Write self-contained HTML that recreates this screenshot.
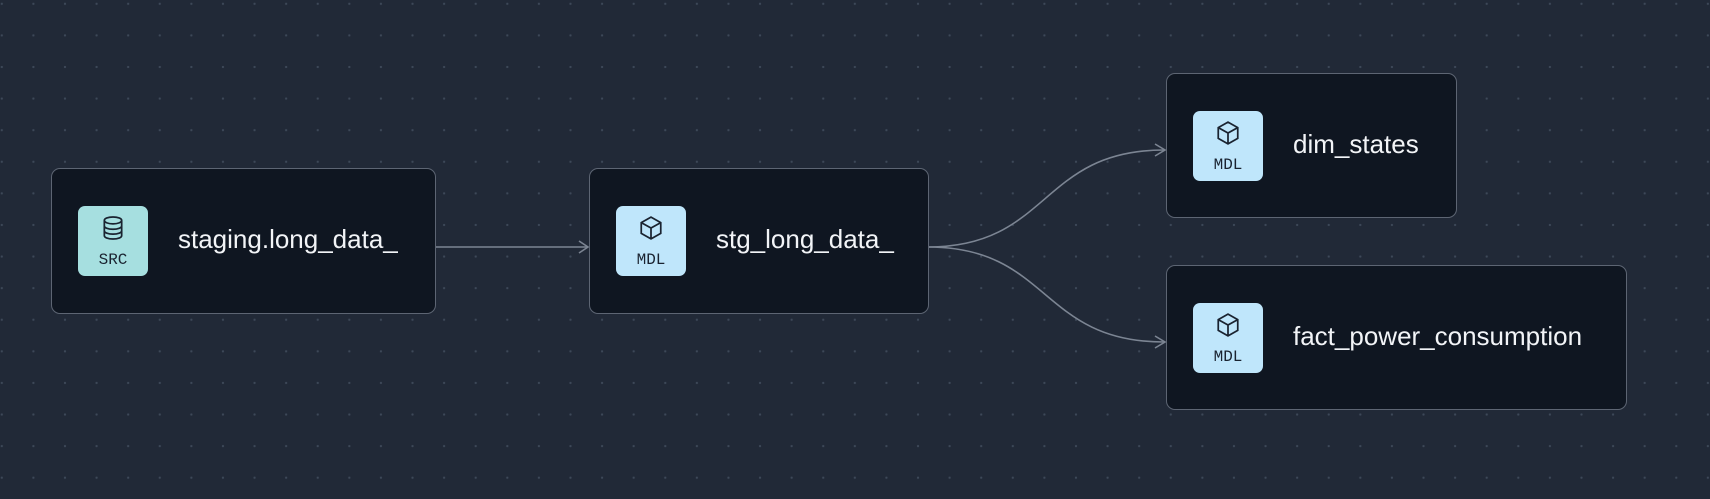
<!DOCTYPE html>
<html><head><meta charset="utf-8"><style>
html,body{margin:0;padding:0;}
body{width:1710px;height:499px;overflow:hidden;background-color:#212937;
background-image:radial-gradient(circle,#3d4858 1px,transparent 1.3px);
background-size:31.6px 31.6px;background-position:-14px -12px;position:relative;
font-family:"Liberation Sans",sans-serif;}
.node{position:absolute;background:#0f1621;border:1px solid #5d6573;border-radius:9px;box-sizing:border-box;}
.icon{position:absolute;left:26px;width:70px;height:70px;border-radius:7px;top:50%;margin-top:-35px;}
.icon span{position:absolute;left:0;right:0;bottom:7px;text-align:center;font-family:"Liberation Mono",monospace;font-size:16px;color:#1a2330;}
.icon svg{position:absolute;left:23px;top:9px;}
.label{position:absolute;left:126px;top:50%;transform:translateY(-55%);color:#f2f4f7;font-size:26px;white-space:nowrap;}
</style></head><body>
<svg width="1710" height="499" style="position:absolute;left:0;top:0">
<g fill="none" stroke="#7c8593" stroke-width="1.6">
<path d="M435 247 L587 247"/><path d="M579 241 L588 247 L579 253"/>
<path d="M928 247 C1050 247 1040 150 1164 150"/><path d="M1155 144 L1165 150 L1155 156"/>
<path d="M928 247 C1050 247 1040 342 1164 342"/><path d="M1155 336 L1165 342 L1155 348"/>
</g></svg>

<div class="node" style="left:51px;top:168px;width:385px;height:146px">
<div class="icon" style="background:#a6dfe0"><svg width="24" height="26" viewBox="0 0 22 24" fill="none" stroke="#1a2330" stroke-width="1.6"><ellipse cx="11" cy="5" rx="8" ry="3.2"/><path d="M3 5v14c0 1.8 3.6 3.2 8 3.2s8-1.4 8-3.2V5M3 10c0 1.8 3.6 3.2 8 3.2s8-1.4 8-3.2M3 14.5c0 1.8 3.6 3.2 8 3.2s8-1.4 8-3.2"/></svg><span>SRC</span></div>
<div class="label">staging.long_data_</div></div>

<div class="node" style="left:589px;top:168px;width:340px;height:146px">
<div class="icon" style="background:#bfe6fb"><svg width="24" height="26" viewBox="0 0 22 24" fill="none" stroke="#1a2330" stroke-width="1.6"><path d="M11 2 L20 7 V17 L11 22 L2 17 V7 Z M2 7 L11 12 L20 7 M11 12 V22"/></svg><span>MDL</span></div>
<div class="label">stg_long_data_</div></div>

<div class="node" style="left:1166px;top:73px;width:291px;height:145px">
<div class="icon" style="background:#bfe6fb"><svg width="24" height="26" viewBox="0 0 22 24" fill="none" stroke="#1a2330" stroke-width="1.6"><path d="M11 2 L20 7 V17 L11 22 L2 17 V7 Z M2 7 L11 12 L20 7 M11 12 V22"/></svg><span>MDL</span></div>
<div class="label">dim_states</div></div>

<div class="node" style="left:1166px;top:265px;width:461px;height:145px">
<div class="icon" style="background:#bfe6fb"><svg width="24" height="26" viewBox="0 0 22 24" fill="none" stroke="#1a2330" stroke-width="1.6"><path d="M11 2 L20 7 V17 L11 22 L2 17 V7 Z M2 7 L11 12 L20 7 M11 12 V22"/></svg><span>MDL</span></div>
<div class="label">fact_power_consumption</div></div>
</body></html>
